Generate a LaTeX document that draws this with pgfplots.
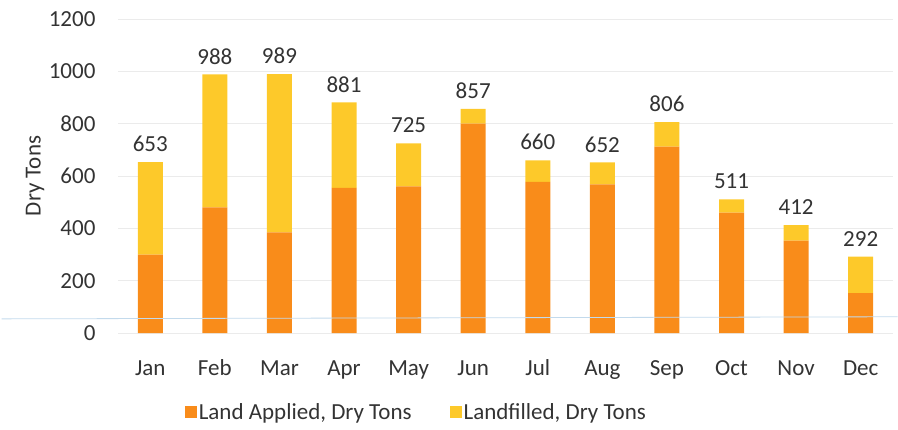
\documentclass[border=0pt]{standalone}
\usepackage{fontspec}
\setmainfont{Carlito}
\usepackage{pgfplots}
\pgfplotsset{compat=1.18}
\definecolor{LandApp}{HTML}{F98C1A}
\definecolor{LandFill}{HTML}{FDC92A}
\definecolor{TxtGray}{HTML}{333333}
\definecolor{ScanBlue}{HTML}{C3DAEC}

\begin{document}
\begin{tikzpicture}
\useasboundingbox (-118pt,-96pt) rectangle (780pt,333pt);
\begin{axis}[
  at={(0,0)}, anchor=south west,
  scale only axis, width=775pt, height=314pt,
  ybar stacked, bar width=25pt,
  xmin=-0.5, xmax=11.5, ymin=0, ymax=1200,
  ytick={0,200,...,1200},
  xtick={0,...,11},
  xticklabels={Jan,Feb,Mar,Apr,May,Jun,Jul,Aug,Sep,Oct,Nov,Dec},
  /pgf/number format/assume math mode=true,
  /pgf/number format/1000 sep={},
  tick label style={font=\fontsize{23}{27}\selectfont, text=TxtGray},
  yticklabel style={xshift=-19pt},
  xticklabel style={yshift=-40pt, anchor=center, text height=1.2ex, text depth=0pt},
  axis line style={draw=none},
  major tick style={draw=none},
  ymajorgrids, major grid style={black!8},
  clip=false,
  legend columns=2,
  legend style={draw=none, fill=none, font=\fontsize{23}{27}\selectfont,
    text=TxtGray, at={(0.385,-0.252)}, anchor=center,
    /tikz/every even column/.append style={column sep=36pt}},
  legend image code/.code={\fill[#1] (0pt,-6pt) rectangle (12pt,6pt);},
]
\draw[ScanBlue, line width=0.8pt] (axis cs:-2.3,54) -- (axis cs:11.57,62);
\node[rotate=90, font=\fontsize{23}{27}\selectfont, text=TxtGray]
  at (rel axis cs:-0.107,0.5) {Dry Tons};
\addplot[fill=LandApp, draw=none] coordinates {
  (0,300) (1,480) (2,385) (3,555) (4,560) (5,800)
  (6,578) (7,568) (8,712) (9,460) (10,353) (11,152)};
\addlegendentry{Land Applied, Dry Tons}
\addplot[fill=LandFill, draw=none] coordinates {
  (0,353) (1,508) (2,604) (3,326) (4,165) (5,57)
  (6,82) (7,84) (8,94) (9,51) (10,59) (11,140)};
\addlegendentry{Landfilled, Dry Tons}
\addplot[draw=none, fill=none, forget plot,
  point meta=explicit symbolic,
  nodes near coords,
  every node near coord/.append style={anchor=south, yshift=6pt, font=\fontsize{23}{27}\selectfont, text=TxtGray, inner sep=4pt}]
  coordinates {
  (0,0.01) [653] (1,0.01) [988] (2,0.01) [989] (3,0.01) [881]
  (4,0.01) [725] (5,0.01) [857] (6,0.01) [660] (7,0.01) [652]
  (8,0.01) [806] (9,0.01) [511] (10,0.01) [412] (11,0.01) [292]};
\end{axis}
\end{tikzpicture}
\end{document}
